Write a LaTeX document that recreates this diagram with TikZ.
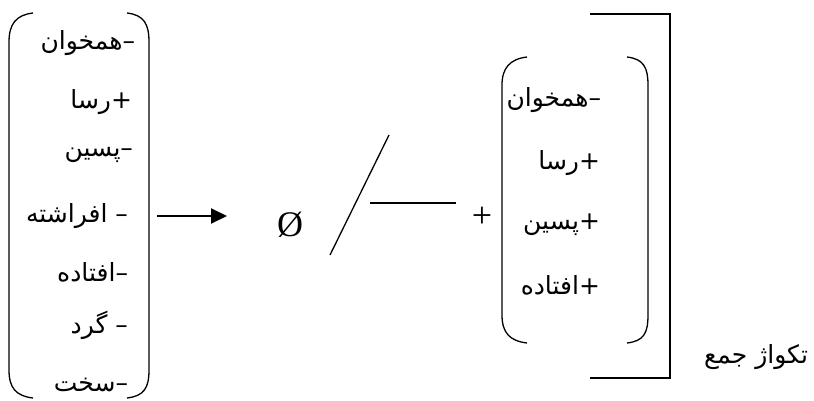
\documentclass[tikz,border=0pt]{standalone}
\usepackage{fontspec}
\setmainfont{Liberation Serif}
\newfontfamily\arabicfont[Script=Arabic]{DejaVu Sans}
\TeXXeTstate=1
\usetikzlibrary{arrows.meta}
\newcommand{\fa}[1]{{\arabicfont\beginR #1\endR}}

\begin{document}
\begin{tikzpicture}[x=1pt,y=-1pt,inner sep=0pt,outer sep=0pt,line width=1.3pt,
  feat/.style={anchor=east,font=\fontsize{25}{29}\selectfont},
  sym/.style={font=\fontsize{36}{40}\selectfont}]
\useasboundingbox (0,0) rectangle (814,401);
% left column
\draw (33,13) .. controls (16,15) and (9,24) .. (9,42) -- (9,370) .. controls (9,388) and (16,396) .. (33,398);
\draw (127,13) .. controls (144,15) and (149,24) .. (149,42) -- (149,370) .. controls (149,388) and (144,396) .. (127,398);
\node[feat] (lA) at (135,43) {\fa{–همخوان}};
\node[feat] (lB) at (132,102) {\fa{+رسا}};
\node[feat] (lC) at (133,155) {\fa{–پسین}};
\node[feat] (lD) at (128,216) {\fa{– افراشته}};
\node[feat] (lE) at (128,272) {\fa{–افتاده}};
\node[feat] (lF) at (128,325) {\fa{– گرد}};
\node[feat] (lG) at (128,385) {\fa{–سخت}};
% arrow
\coordinate (arrS) at (157,216);
\coordinate (arrE) at (227,216);
\draw[line width=2pt,-{Triangle[length=16pt,width=15pt]}] (arrS) -- (arrE);
\node[sym] (null) at (290,225) {Ø};
% slash and bar
\coordinate (slA) at (330,255);
\coordinate (slB) at (389,135);
\draw (slA) -- (slB);
\coordinate (barA) at (370,203);
\coordinate (barB) at (456,203);
\draw (barA) -- (barB);
\node[sym] (plus) at (482,217) {+};
% right column
\draw (590,14) -- (670,14) -- (670,378) -- (590,378);
\draw (527,57) .. controls (510,59) and (502,68) .. (502,85) -- (502,315) .. controls (502,333) and (510,341) .. (527,343);
\draw (627,57) .. controls (644,59) and (648,68) .. (648,85) -- (648,315) .. controls (648,333) and (644,341) .. (627,343);
\node[feat] (rA) at (601,100) {\fa{–همخوان}};
\node[feat] (rB) at (600,163) {\fa{+رسا}};
\node[feat] (rC) at (600,225) {\fa{+پسین}};
\node[feat] (rD) at (600,285) {\fa{+افتاده}};
\node[feat] (plur) at (808,357) {\fa{تکواژ جمع}};
\end{tikzpicture}
\end{document}
